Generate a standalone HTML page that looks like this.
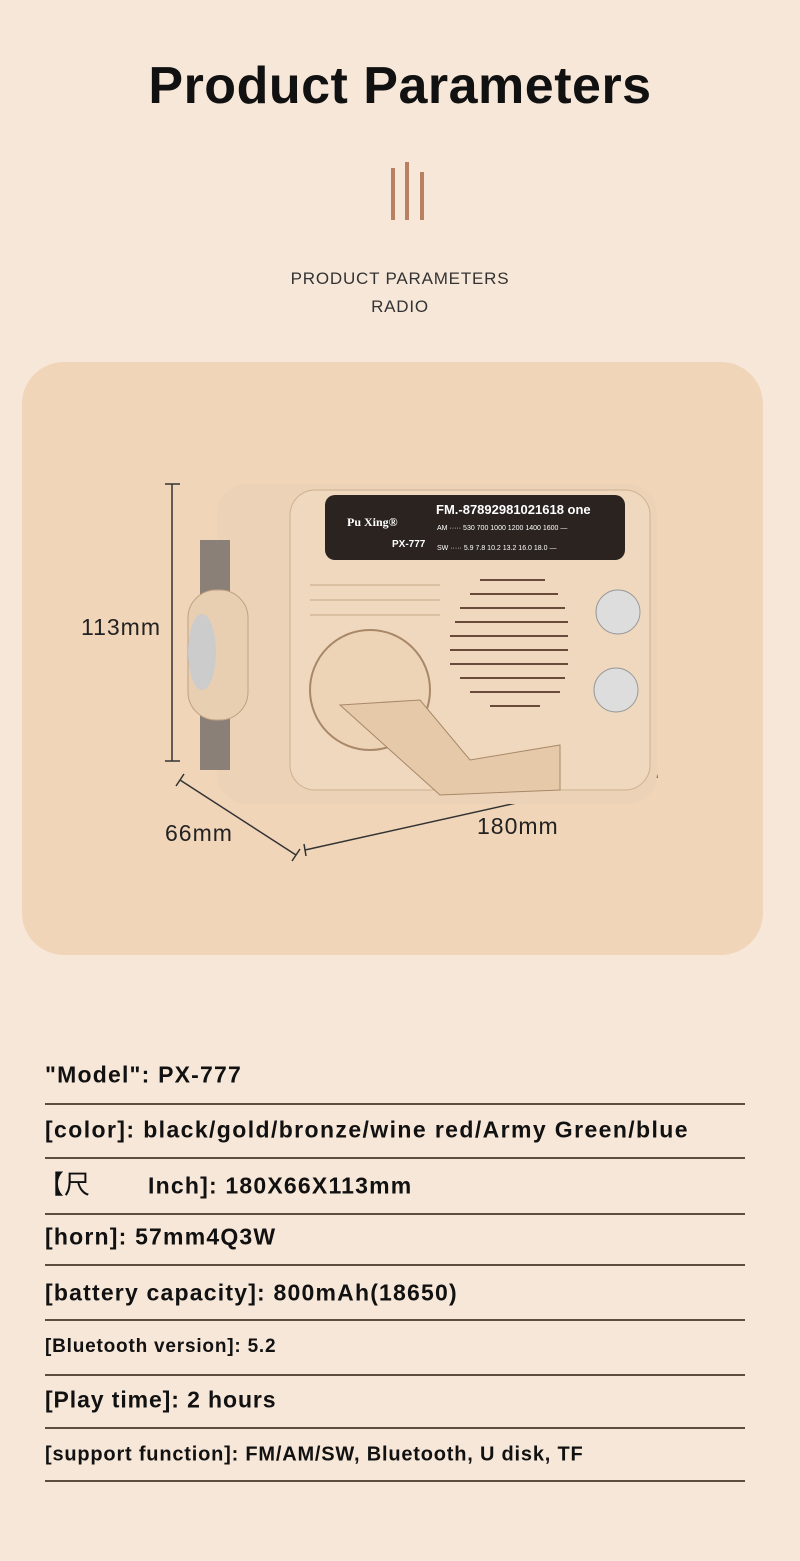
<!DOCTYPE html>
<html><head><meta charset="utf-8"><style>
body{margin:0;width:800px;height:1561px;background:#f7e7d9;font-family:"Liberation Sans","Noto Sans CJK SC",sans-serif;position:relative;overflow:hidden;color:#111}
.t{position:absolute;left:0;width:800px;text-align:center}
.row{position:absolute;left:45px;font-weight:bold;font-size:23px;letter-spacing:1.2px;white-space:nowrap;transform:translateY(-50%)}
.ln{position:absolute;left:45px;width:700px;height:2px;background:#5e4d40}
</style></head><body>
<div class="t" style="top:56px;font-size:52px;font-weight:bold;letter-spacing:0.5px">Product Parameters</div>
<div style="position:absolute;left:391px;top:168px;width:4px;height:52px;background:#b98062"></div>
<div style="position:absolute;left:405px;top:162px;width:4px;height:58px;background:#b98062"></div>
<div style="position:absolute;left:420px;top:172px;width:4px;height:48px;background:#b98062"></div>
<div class="t" style="top:269px;font-size:17px;letter-spacing:0.8px;color:#333">PRODUCT PARAMETERS</div>
<div class="t" style="top:297px;font-size:17px;letter-spacing:0.8px;color:#333">RADIO</div>
<div style="position:absolute;left:22px;top:362px;width:741px;height:593px;border-radius:42px;background:#f1d5b9"></div>
<svg style="position:absolute;left:0;top:0" width="800" height="1000">
<g stroke="#333" stroke-width="1.5" fill="none">
<line x1="172" y1="484" x2="172" y2="761"/><line x1="165" y1="484" x2="180" y2="484"/><line x1="165" y1="761" x2="180" y2="761"/>
<line x1="180" y1="780" x2="296" y2="855"/><line x1="176" y1="786" x2="184" y2="774"/><line x1="292" y1="861" x2="300" y2="849"/>
<line x1="305" y1="850" x2="656" y2="772"/><line x1="304" y1="844" x2="306" y2="856"/><line x1="655" y1="766" x2="657" y2="778"/>
</g>
<rect x="217" y="484" width="440" height="320" rx="30" fill="#ecd3b7"/>
<rect x="200" y="540" width="30" height="230" fill="#8a8078"/>
<rect x="188" y="590" width="60" height="130" rx="28" fill="#e9cfb2" stroke="#bfa080"/>
<ellipse cx="202" cy="652" rx="14" ry="38" fill="#ccc"/>
<rect x="290" y="490" width="360" height="300" rx="25" fill="#efd8bd" stroke="#cdb090"/>
<rect x="325" y="495" width="300" height="65" rx="10" fill="#2a2320"/>
<g stroke="#6a4a3a" stroke-width="2">
<line x1="480" y1="580" x2="545" y2="580"/><line x1="470" y1="594" x2="558" y2="594"/><line x1="460" y1="608" x2="565" y2="608"/><line x1="455" y1="622" x2="568" y2="622"/><line x1="450" y1="636" x2="568" y2="636"/><line x1="450" y1="650" x2="568" y2="650"/><line x1="450" y1="664" x2="568" y2="664"/><line x1="460" y1="678" x2="565" y2="678"/><line x1="470" y1="692" x2="560" y2="692"/><line x1="490" y1="706" x2="540" y2="706"/>
</g>
<g stroke="#d4b898" stroke-width="1.5"><line x1="310" y1="585" x2="440" y2="585"/><line x1="310" y1="600" x2="440" y2="600"/><line x1="310" y1="615" x2="440" y2="615"/></g>
<circle cx="370" cy="690" r="60" fill="#eed4b6" stroke="#a88868" stroke-width="2"/>
<path d="M340 705 L420 700 L470 760 L560 745 L560 790 L440 795 Z" fill="#e6c9a8" stroke="#a88868"/>
<circle cx="618" cy="612" r="22" fill="#ddd" stroke="#999"/>
<circle cx="616" cy="690" r="22" fill="#ddd" stroke="#999"/>
<text x="436" y="514" font-family="Liberation Sans" font-weight="bold" font-size="13" fill="#fff">FM.-87892981021618 one</text>
<text x="347" y="526" font-family="Liberation Serif" font-weight="bold" font-size="12" fill="#fff">Pu Xing®</text>
<text x="392" y="547" font-family="Liberation Sans" font-weight="bold" font-size="10" fill="#fff">PX-777</text>
<text x="437" y="530" font-family="Liberation Sans" font-size="7" fill="#fff">AM ····· 530   700  1000 1200 1400 1600 —</text>
<text x="437" y="550" font-family="Liberation Sans" font-size="7" fill="#fff">SW ····· 5.9   7.8  10.2 13.2  16.0 18.0 —</text>
<text x="81" y="635" font-family="Liberation Sans" font-size="23" letter-spacing="1" fill="#222">113mm</text>
<text x="165" y="841" font-family="Liberation Sans" font-size="23" letter-spacing="1" fill="#222">66mm</text>
<text x="477" y="834" font-family="Liberation Sans" font-size="23" letter-spacing="1" fill="#222">180mm</text>
</svg>
<div class="row" style="top:1075px">"Model": PX-777</div>
<div class="ln" style="top:1103px"></div>
<div class="row" style="top:1130px;letter-spacing:1.4px">[color]: black/gold/bronze/wine red/Army Green/blue</div>
<div class="ln" style="top:1157px"></div>
<div class="row" style="top:1183px;left:38px"><span style="font-weight:normal;font-size:26px;letter-spacing:0">【尺</span><span style="display:inline-block;width:58px"></span>Inch]: 180X66X113mm</div>
<div class="ln" style="top:1213px"></div>
<div class="row" style="top:1237px">[horn]: 57mm4Q3W</div>
<div class="ln" style="top:1264px"></div>
<div class="row" style="top:1293px">[battery capacity]: 800mAh(18650)</div>
<div class="ln" style="top:1319px"></div>
<div class="row" style="top:1347px;font-size:19px;letter-spacing:0.8px">[Bluetooth version]: 5.2</div>
<div class="ln" style="top:1374px"></div>
<div class="row" style="top:1400px;letter-spacing:0.9px">[Play time]: 2 hours</div>
<div class="ln" style="top:1427px"></div>
<div class="row" style="top:1455px;font-size:20px;letter-spacing:0.8px">[support function]: FM/AM/SW, Bluetooth, U disk, TF</div>
<div class="ln" style="top:1480px"></div>
</body></html>
